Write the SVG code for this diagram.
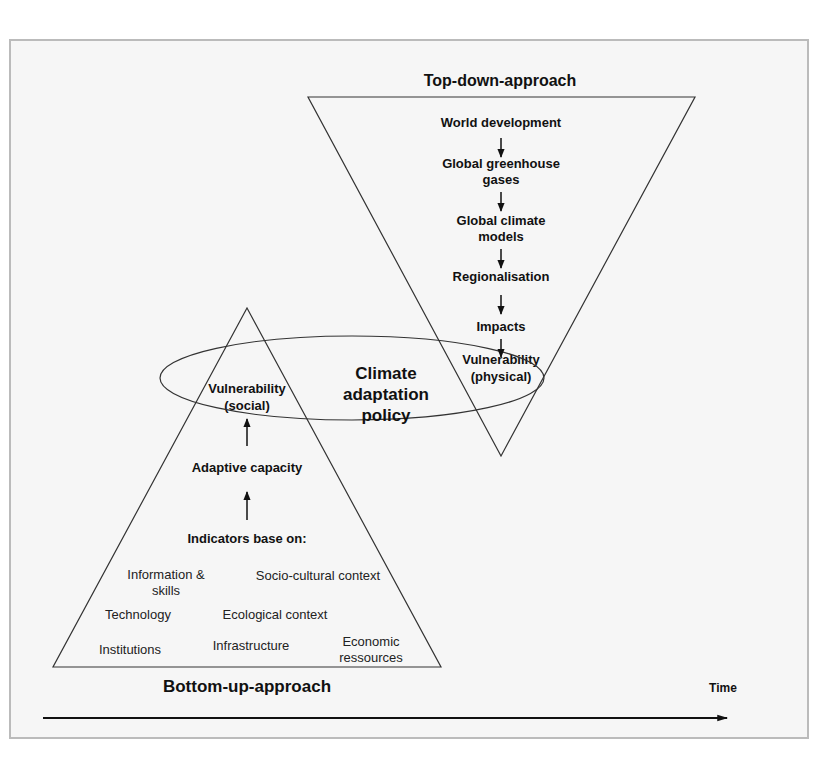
<svg xmlns="http://www.w3.org/2000/svg" width="820" height="757" viewBox="0 0 820 757">
<defs>
<marker id="ah" viewBox="0 0 10 10" refX="9" refY="5" markerWidth="6" markerHeight="6" orient="auto-start-reverse"><path d="M0,1 L10,5 L0,9 z" fill="#111"/></marker>
<marker id="big" viewBox="0 0 10 10" refX="9" refY="5" markerWidth="8" markerHeight="6" orient="auto"><path d="M0,2 L10,5 L0,8 z" fill="#111"/></marker>
</defs>
<style>
text{font-family:"Liberation Sans",Arial,sans-serif;fill:#111;text-anchor:middle}
.b{font-weight:bold;font-size:13px}
.r{font-size:13px;fill:#222}
.s{fill:none;stroke:#333;stroke-width:1.2}
.a{stroke:#111;stroke-width:1.5;marker-end:url(#ah)}
</style>
<rect x="0" y="0" width="820" height="757" fill="#fff"/>
<rect x="10" y="40" width="798" height="698" fill="#f6f6f6" stroke="#bbb" stroke-width="2"/>
<g id="topdown">
<polygon class="s" points="308,97 695,97 501,456"/>
<text x="500" y="86" style="font-weight:bold;font-size:16px">Top-down-approach</text>
<text class="b" x="501" y="127">World development</text>
<text class="b" x="501" y="168">Global greenhouse</text>
<text class="b" x="501" y="184">gases</text>
<text class="b" x="501" y="225">Global climate</text>
<text class="b" x="501" y="241">models</text>
<text class="b" x="501" y="281">Regionalisation</text>
<text class="b" x="501" y="331">Impacts</text>
<text class="b" x="501" y="364">Vulnerability</text>
<text class="b" x="501" y="381">(physical)</text>
</g>
<g id="bottomup">
<polygon class="s" points="247,308 441,667 53,667"/>
<text class="b" x="247" y="393">Vulnerability</text>
<text class="b" x="247" y="410">(social)</text>
<text class="b" x="247" y="472">Adaptive capacity</text>
<text class="b" x="247" y="543">Indicators base on:</text>
<text class="r" x="166" y="579">Information &amp;</text>
<text class="r" x="166" y="595">skills</text>
<text class="r" x="318" y="580">Socio-cultural context</text>
<text class="r" x="138" y="619">Technology</text>
<text class="r" x="275" y="619">Ecological context</text>
<text class="r" x="130" y="654">Institutions</text>
<text class="r" x="251" y="650">Infrastructure</text>
<text class="r" x="371" y="646">Economic</text>
<text class="r" x="371" y="662">ressources</text>
<text x="247" y="692" style="font-weight:bold;font-size:17px">Bottom-up-approach</text>
</g>
<g id="policy">
<ellipse class="s" cx="352" cy="378" rx="192" ry="42"/>
<text x="386" y="379" style="font-weight:bold;font-size:17px">Climate</text>
<text x="386" y="400" style="font-weight:bold;font-size:17px">adaptation</text>
<text x="386" y="421" style="font-weight:bold;font-size:17px">policy</text>
</g>
<g id="time">
<text class="b" x="723" y="692" style="font-size:12px">Time</text>
</g>
<g id="connectors">
<line class="a" x1="501" y1="138" x2="501" y2="157"/>
<line class="a" x1="501" y1="192" x2="501" y2="211"/>
<line class="a" x1="501" y1="249" x2="501" y2="268"/>
<line class="a" x1="501" y1="295" x2="501" y2="314"/>
<line class="a" x1="501" y1="339" x2="501" y2="357"/>
<line class="a" x1="247" y1="446" x2="247" y2="419"/>
<line class="a" x1="247" y1="520" x2="247" y2="492"/>
<line x1="43" y1="718" x2="727" y2="718" stroke="#111" stroke-width="1.8" marker-end="url(#big)"/>
</g>
</svg>
